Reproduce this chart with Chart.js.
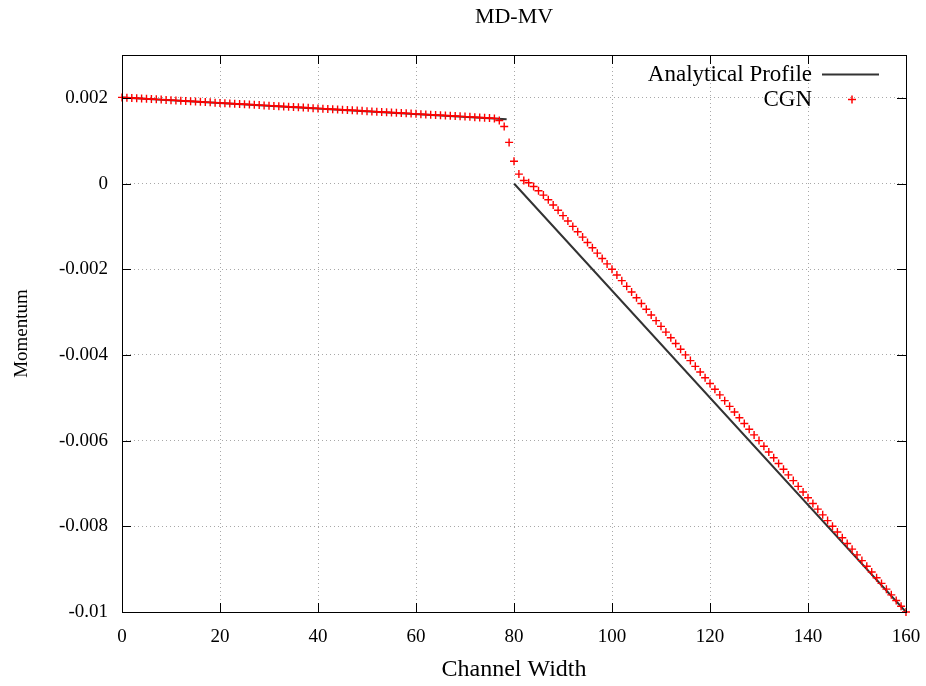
<!DOCTYPE html>
<html>
<head>
<meta charset="utf-8">
<title>MD-MV</title>
<script src="https://cdn.jsdelivr.net/npm/chart.js@4/dist/chart.umd.min.js"></script>
<style>
  html, body { margin: 0; padding: 0; background: #fff; }
  canvas { display: block; }
</style>
</head>
<body>
<canvas id="chart" width="926" height="686"></canvas>
<script>
"use strict";

// ── Data ─────────────────────────────────────────────────────────────────────

const xTicks = [0, 20, 40, 60, 80, 100, 120, 140, 160];
const yTicks = [-0.01, -0.008, -0.006, -0.004, -0.002, 0, 0.002];
const yTickLabels = ["-0.01", "-0.008", "-0.006", "-0.004", "-0.002", "0", "0.002"];

// analytical profile: two straight pieces, null breaks the line
const analyticX = [0, 78.5, 79, 80, 160];
const analyticY = [0.00201, 0.0015, null, 0, -0.01];

// CGN samples, one per channel cell
const cgnX = [
  0, 1, 2, 3, 4, 5, 6, 7, 8, 9, 10, 11, 12, 13, 14, 15, 16, 17, 18, 19,
  20, 21, 22, 23, 24, 25, 26, 27, 28, 29, 30, 31, 32, 33, 34, 35, 36, 37, 38, 39,
  40, 41, 42, 43, 44, 45, 46, 47, 48, 49, 50, 51, 52, 53, 54, 55, 56, 57, 58, 59,
  60, 61, 62, 63, 64, 65, 66, 67, 68, 69, 70, 71, 72, 73, 74, 75, 76, 77, 78, 79,
  80, 81, 82, 83, 84, 85, 86, 87, 88, 89, 90, 91, 92, 93, 94, 95, 96, 97, 98, 99,
  100, 101, 102, 103, 104, 105, 106, 107, 108, 109, 110, 111, 112, 113, 114, 115, 116, 117, 118, 119,
  120, 121, 122, 123, 124, 125, 126, 127, 128, 129, 130, 131, 132, 133, 134, 135, 136, 137, 138, 139,
  140, 141, 142, 143, 144, 145, 146, 147, 148, 149, 150, 151, 152, 153, 154, 155, 156, 157, 158, 159,
  160
];
const cgnY = [
  0.002010, 0.002004, 0.001997, 0.001991, 0.001984, 0.001978, 0.001972, 0.001965, 0.001959, 0.001952,
  0.001946, 0.001940, 0.001933, 0.001927, 0.001920, 0.001914, 0.001908, 0.001901, 0.001895, 0.001888,
  0.001882, 0.001876, 0.001869, 0.001863, 0.001856, 0.001850, 0.001844, 0.001837, 0.001831, 0.001824,
  0.001818, 0.001812, 0.001805, 0.001799, 0.001792, 0.001786, 0.001780, 0.001773, 0.001767, 0.001760,
  0.001754, 0.001748, 0.001741, 0.001735, 0.001728, 0.001722, 0.001716, 0.001709, 0.001703, 0.001696,
  0.001690, 0.001684, 0.001677, 0.001671, 0.001664, 0.001658, 0.001652, 0.001645, 0.001639, 0.001632,
  0.001626, 0.001620, 0.001613, 0.001607, 0.001600, 0.001594, 0.001588, 0.001581, 0.001575, 0.001568,
  0.001562, 0.001556, 0.001549, 0.001543, 0.001536, 0.001530, 0.001520, 0.001470, 0.001330, 0.000960,
  0.000520, 0.000220, 0.000070, 0.000020, -0.000070, -0.000170, -0.000270, -0.000380, -0.000500, -0.000625,
  -0.000750, -0.000875, -0.001000, -0.001125, -0.001250, -0.001375, -0.001500, -0.001625, -0.001750, -0.001875,
  -0.002000, -0.002133, -0.002267, -0.002400, -0.002533, -0.002667, -0.002800, -0.002933, -0.003067, -0.003200,
  -0.003333, -0.003467, -0.003600, -0.003733, -0.003867, -0.004000, -0.004133, -0.004267, -0.004400, -0.004533,
  -0.004667, -0.004800, -0.004933, -0.005067, -0.005200, -0.005333, -0.005467, -0.005600, -0.005733, -0.005867,
  -0.006000, -0.006133, -0.006267, -0.006400, -0.006533, -0.006667, -0.006800, -0.006933, -0.007067, -0.007200,
  -0.007333, -0.007467, -0.007600, -0.007733, -0.007867, -0.008000, -0.008133, -0.008267, -0.008400, -0.008533,
  -0.008667, -0.008800, -0.008933, -0.009067, -0.009200, -0.009333, -0.009467, -0.009600, -0.009733, -0.009867,
  -0.010000
];

const FONT = "'Liberation Serif', 'Times New Roman', serif";
const LINE_COLOR = "#333333";
const CGN_COLOR = "#ff0000";

// ── Helpers ──────────────────────────────────────────────────────────────────

function toPoints(xs, ys) {
  return xs.map((x, i) => ({ x, y: ys[i] }));
}

// gnuplot-ish frame: black box, inward ticks on all four sides, key top-right
const framePlugin = {
  id: "frame",
  afterDraw(chart) {
    const { ctx, chartArea: a, scales } = chart;
    const tick = 9;
    ctx.save();
    ctx.strokeStyle = "#000";
    ctx.lineWidth = 1;
    ctx.beginPath();
    xTicks.forEach(v => {
      const px = Math.round(scales.x.getPixelForValue(v)) + 0.5;
      ctx.moveTo(px, a.bottom); ctx.lineTo(px, a.bottom - tick);
      ctx.moveTo(px, a.top); ctx.lineTo(px, a.top + tick);
    });
    yTicks.forEach(v => {
      const py = Math.round(scales.y.getPixelForValue(v)) + 0.5;
      ctx.moveTo(a.left, py); ctx.lineTo(a.left + tick, py);
      ctx.moveTo(a.right, py); ctx.lineTo(a.right - tick, py);
    });
    ctx.stroke();
    ctx.strokeRect(Math.round(a.left) + 0.5, Math.round(a.top) + 0.5,
      Math.round(a.right - a.left), Math.round(a.bottom - a.top));

    // key
    ctx.font = `23px ${FONT}`;
    ctx.fillStyle = "#000";
    ctx.textAlign = "right";
    ctx.textBaseline = "middle";
    const textRight = a.right - 94;
    ctx.fillText("Analytical Profile", textRight, a.top + 20);
    ctx.fillText("CGN", textRight, a.top + 45);
    ctx.strokeStyle = LINE_COLOR;
    ctx.lineWidth = 2;
    ctx.beginPath();
    ctx.moveTo(textRight + 10, a.top + 19.5);
    ctx.lineTo(textRight + 67, a.top + 19.5);
    ctx.stroke();
    ctx.strokeStyle = CGN_COLOR;
    ctx.lineWidth = 1.5;
    const cx = textRight + 40, cy = a.top + 44.5;
    ctx.beginPath();
    ctx.moveTo(cx - 4, cy); ctx.lineTo(cx + 4, cy);
    ctx.moveTo(cx, cy - 4); ctx.lineTo(cx, cy + 4);
    ctx.stroke();
    ctx.restore();
  },
};

// ── Chart ────────────────────────────────────────────────────────────────────

function createChart() {
  const ctx = document.getElementById("chart").getContext("2d");
  return new Chart(ctx, {
    type: "scatter",
    data: {
      datasets: [
        {
          label: "Analytical Profile",
          data: toPoints(analyticX, analyticY),
          showLine: true,
          spanGaps: false,
          borderColor: LINE_COLOR,
          borderWidth: 2,
          pointRadius: 0,
          order: 2,
        },
        {
          label: "CGN",
          data: toPoints(cgnX, cgnY),
          showLine: false,
          pointStyle: "cross",
          pointRadius: 4,
          borderColor: CGN_COLOR,
          backgroundColor: CGN_COLOR,
          borderWidth: 1.4,
          clip: false,
          order: 1,
        },
      ],
    },
    options: {
      responsive: false,
      animation: false,
      layout: { padding: { left: 0, right: 20, top: 0, bottom: 0 } },
      plugins: {
        legend: { display: false },
        tooltip: { enabled: false },
        title: {
          display: true,
          fullSize: false,
          text: "MD-MV",
          color: "#000",
          font: { family: FONT, size: 22, weight: "normal" },
          padding: { top: 4, bottom: 24.6 },
        },
      },
      scales: {
        x: {
          type: "linear",
          min: 0,
          max: 160,
          afterBuildTicks: s => { s.ticks = xTicks.map(v => ({ value: v })); },
          afterFit: s => { s.height = 74; s.paddingLeft = 0; s.paddingRight = 0; },
          ticks: {
            color: "#000",
            font: { family: FONT, size: 19 },
            padding: 14,
            maxRotation: 0,
            callback: v => String(v),
          },
          grid: { color: "#a8a8a8", lineWidth: 1, drawTicks: false },
          border: { display: false, dash: [1, 3] },
          title: {
            display: true,
            text: "Channel Width",
            color: "#000",
            font: { family: FONT, size: 24 },
            padding: { top: 2, bottom: 2 },
          },
        },
        y: {
          type: "linear",
          min: -0.01,
          max: 0.003,
          afterBuildTicks: s => { s.ticks = yTicks.map(v => ({ value: v })); },
          afterFit: s => { s.width = 122; },
          ticks: {
            color: "#000",
            font: { family: FONT, size: 19 },
            padding: 14,
            callback: (v, i) => yTickLabels[i],
          },
          grid: { color: "#a8a8a8", lineWidth: 1, drawTicks: false },
          border: { display: false, dash: [1, 3] },
          title: {
            display: true,
            text: "Momentum",
            color: "#000",
            font: { family: FONT, size: 19 },
            padding: { top: 11, bottom: 11 },
          },
        },
      },
    },
    plugins: [framePlugin],
  });
}

document.addEventListener("DOMContentLoaded", createChart);
</script>
</body>
</html>
